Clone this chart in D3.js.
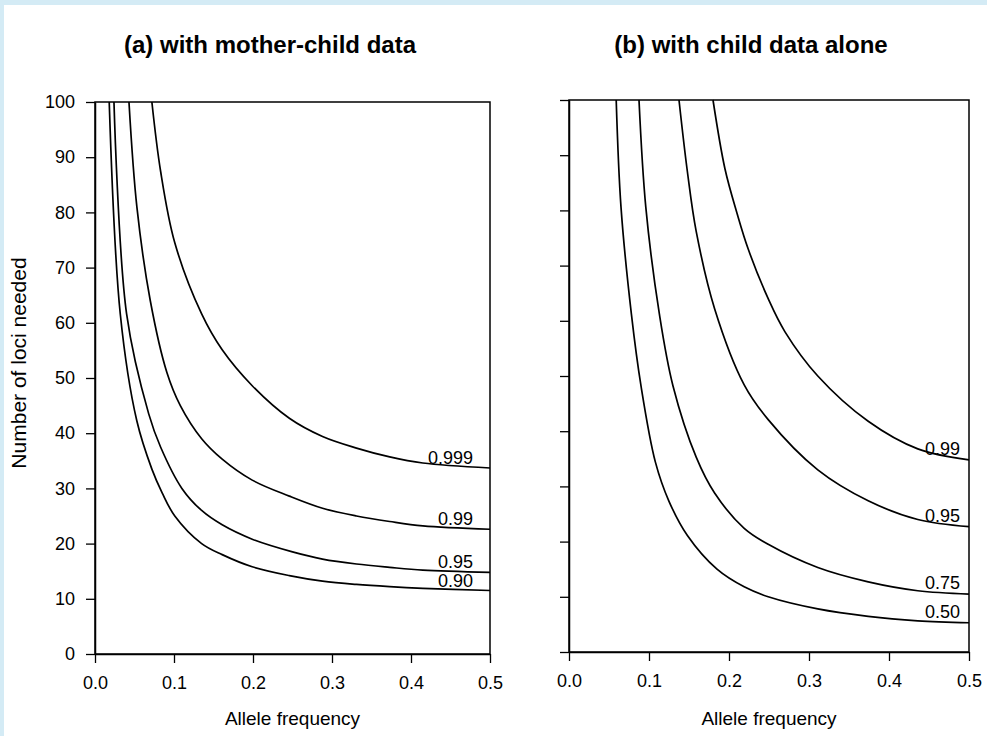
<!DOCTYPE html>
<html>
<head>
<meta charset="utf-8">
<script src="https://cdn.jsdelivr.net/npm/d3@7"></script>
<style>
  html, body { margin: 0; padding: 0; background: #d4ebf5; }
  svg { display: block; }
  text { font-family: "Liberation Sans", Arial, Helvetica, sans-serif; fill: #000; }
</style>
</head>
<body>
<svg id="chart" width="987" height="736"></svg>
<script>
// ---------- DATA ----------
const panelTitles = ["(a) with mother-child data", "(b) with child data alone"];
const xLabel = "Allele frequency";
const yLabel = "Number of loci needed";
const xTicks = [0, 0.1, 0.2, 0.3, 0.4, 0.5];
const yTicks = [0, 10, 20, 30, 40, 50, 60, 70, 80, 90, 100];

// Panel (a): series labels and [allele frequency, loci needed]
const seriesA = ["0.90", "0.95", "0.99", "0.999"];
const a090 = [[0.018,100],[0.032,61.6],[0.053,42.2],[0.072,33.5],[0.085,29.2],[0.101,25.0],[0.135,20.0],[0.161,18.0],[0.199,15.8],[0.246,14.2],[0.288,13.2],[0.331,12.6],[0.373,12.2],[0.415,11.9],[0.5,11.5]];
const a095 = [[0.024,100],[0.040,61.6],[0.068,43.5],[0.083,37.5],[0.110,30.0],[0.135,26.0],[0.161,23.4],[0.199,20.8],[0.25,18.5],[0.288,17.2],[0.331,16.3],[0.373,15.7],[0.415,15.2],[0.5,14.8]];
const a099 = [[0.043,100],[0.053,81],[0.070,64],[0.091,51],[0.108,45],[0.135,39],[0.161,35.3],[0.199,31.5],[0.246,28.6],[0.288,26.4],[0.331,25.0],[0.373,24.0],[0.415,23.2],[0.5,22.6]];
const a0999 = [[0.072,100],[0.083,87.5],[0.101,74.5],[0.135,61.6],[0.161,55.1],[0.199,48.6],[0.246,42.7],[0.288,39.4],[0.331,37.3],[0.373,35.7],[0.415,34.6],[0.5,33.7]];

// Panel (b)
const seriesB = ["0.50", "0.75", "0.95", "0.99"];
const b050 = [[0.059,100],[0.065,80.6],[0.078,61.2],[0.090,48.2],[0.108,34.4],[0.125,27.3],[0.148,21.1],[0.185,15.0],[0.219,11.8],[0.249,10.0],[0.311,7.8],[0.374,6.45],[0.436,5.65],[0.5,5.3]];
const b075 = [[0.0875,100],[0.096,80.6],[0.113,61.2],[0.130,48.2],[0.159,35.3],[0.182,28.8],[0.219,22.4],[0.249,19.5],[0.311,15.3],[0.374,12.7],[0.436,11.1],[0.5,10.5]];
const b095 = [[0.1375,100],[0.148,87],[0.159,76.2],[0.182,62.2],[0.219,48.4],[0.249,42.1],[0.311,33.0],[0.374,27.4],[0.436,24.0],[0.5,22.7]];
const b099 = [[0.18,100],[0.195,87.5],[0.21,79.5],[0.224,73],[0.249,64],[0.27,58],[0.311,50],[0.374,41.8],[0.436,36.8],[0.5,34.8]];

const curvesA = [a090, a095, a099, a0999];
const curvesB = [b050, b075, b095, b099];

// ---------- LAYOUT ----------
const svg = d3.select("#chart");
svg.append("rect").attr("x", 4).attr("y", 5).attr("width", 983).attr("height", 731).attr("fill", "#fff");

const panels = [
  { x0: 95, x1: 490, yTop: 102, yBot: 654, title: panelTitles[0], titleX: 270, labels: true,
    series: seriesA, curves: curvesA, labelInset: 17, labelDy: -4 },
  { x0: 569, x1: 969, yTop: 100, yBot: 652, title: panelTitles[1], titleX: 751, labels: false,
    series: seriesB, curves: curvesB, labelInset: 9, labelDy: -5 }
];

const fontSize = 18;

panels.forEach(p => {
  const x = d3.scaleLinear().domain([0, 0.5]).range([p.x0, p.x1]);
  const y = d3.scaleLinear().domain([0, 100]).range([p.yBot, p.yTop]);
  const g = svg.append("g");

  // y axis
  const yAxis = d3.axisLeft(y).tickValues(yTicks).tickSize(9).tickSizeOuter(0).tickPadding(11);
  if (!p.labels) yAxis.tickFormat("");
  const gy = g.append("g").attr("transform", `translate(${p.x0},0)`).call(yAxis);
  gy.selectAll("text").style("font-size", fontSize + "px");

  // x axis
  const xAxis = d3.axisBottom(x).tickValues(xTicks).tickFormat(d3.format(".1f"))
    .tickSize(9).tickSizeOuter(0).tickPadding(13);
  const gx = g.append("g").attr("transform", `translate(0,${p.yBot})`).call(xAxis);
  gx.selectAll("text").style("font-size", fontSize + "px");

  g.selectAll(".domain").attr("stroke", "#000").attr("stroke-width", 1.5);
  g.selectAll(".tick line").attr("stroke", "#000").attr("stroke-width", 1.3);

  // frame
  g.append("rect").attr("x", p.x0).attr("y", p.yTop)
    .attr("width", p.x1 - p.x0).attr("height", p.yBot - p.yTop)
    .attr("fill", "none").attr("stroke", "#000").attr("stroke-width", 1.5);

  // curves
  const line = d3.line().x(d => x(d[0])).y(d => y(d[1])).curve(d3.curveCatmullRom.alpha(0.5));
  p.curves.forEach((c, i) => {
    g.append("path").datum(c).attr("d", line)
      .attr("fill", "none").attr("stroke", "#000").attr("stroke-width", 1.7);
    const last = c[c.length - 1];
    g.append("text").attr("x", x(last[0]) - p.labelInset).attr("y", y(last[1]) + p.labelDy)
      .attr("text-anchor", "end").style("font-size", fontSize + "px").text(p.series[i]);
  });

  // title
  svg.append("text").attr("x", p.titleX).attr("y", 53).attr("text-anchor", "middle")
    .style("font-size", "24px").style("font-weight", "bold").text(p.title);

  // x label
  svg.append("text").attr("x", (p.x0 + p.x1) / 2).attr("y", 725).attr("text-anchor", "middle")
    .style("font-size", "19px").text(xLabel);
});

// y label
svg.append("text").attr("transform", "translate(26,363) rotate(-90)")
  .attr("text-anchor", "middle").style("font-size", "21px").text(yLabel);
</script>
</body>
</html>
